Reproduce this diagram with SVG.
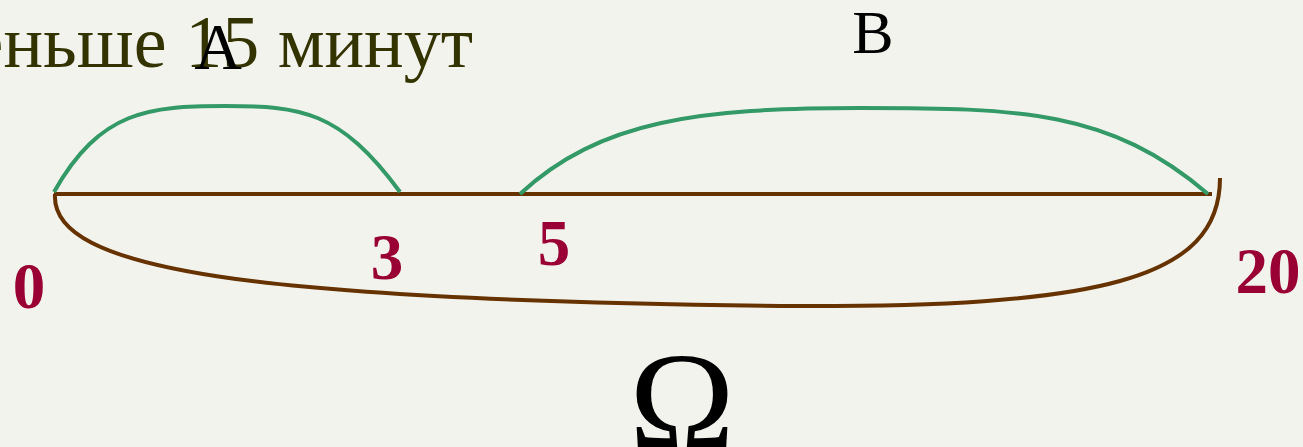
<svg xmlns="http://www.w3.org/2000/svg" width="1303" height="447" viewBox="0 0 1303 447">
<style>
.g{fill:none;stroke:#339966;stroke-width:4}
.b{fill:none;stroke:#663300;stroke-width:4}
.num{font-family:"Liberation Serif",serif;font-weight:bold;font-size:65px;fill:#990033}
.lbl{font-family:"Liberation Serif",serif;fill:#000}
</style>
<rect width="1303" height="447" fill="#f3f3ee"/>
<text x="473" y="67" text-anchor="end" font-family="Liberation Serif, serif" font-size="74" fill="#333300">меньше 15 минут</text>
<g id="connectors">
<path class="b" d="M54,194 H1212"/>
<path class="g" d="M54,192 C100,110 150,106 225,106 C300,106 340,110 400,192"/>
<path class="g" d="M520,194 C600,120 700,108 860,108 C1020,108 1110,110 1208,194"/>
<path class="b" d="M55,194 C50,270 250,300 780,306 C1100,308 1220,280 1220,178"/>
</g>
<g id="A"><text class="lbl" x="218" y="69" font-size="66" text-anchor="middle">A</text></g>
<g id="B"><text class="lbl" x="873" y="53" font-size="62" text-anchor="middle">B</text></g>
<g id="n0"><text class="num" x="29" y="308" text-anchor="middle">0</text></g>
<g id="n3"><text class="num" x="387" y="279" text-anchor="middle">3</text></g>
<g id="n5"><text class="num" x="554" y="265" text-anchor="middle">5</text></g>
<g id="n20"><text class="num" x="1268" y="293" text-anchor="middle">20</text></g>
<g id="omega"><text class="lbl" x="682" y="450" font-size="142" text-anchor="middle">Ω</text></g>
</svg>
